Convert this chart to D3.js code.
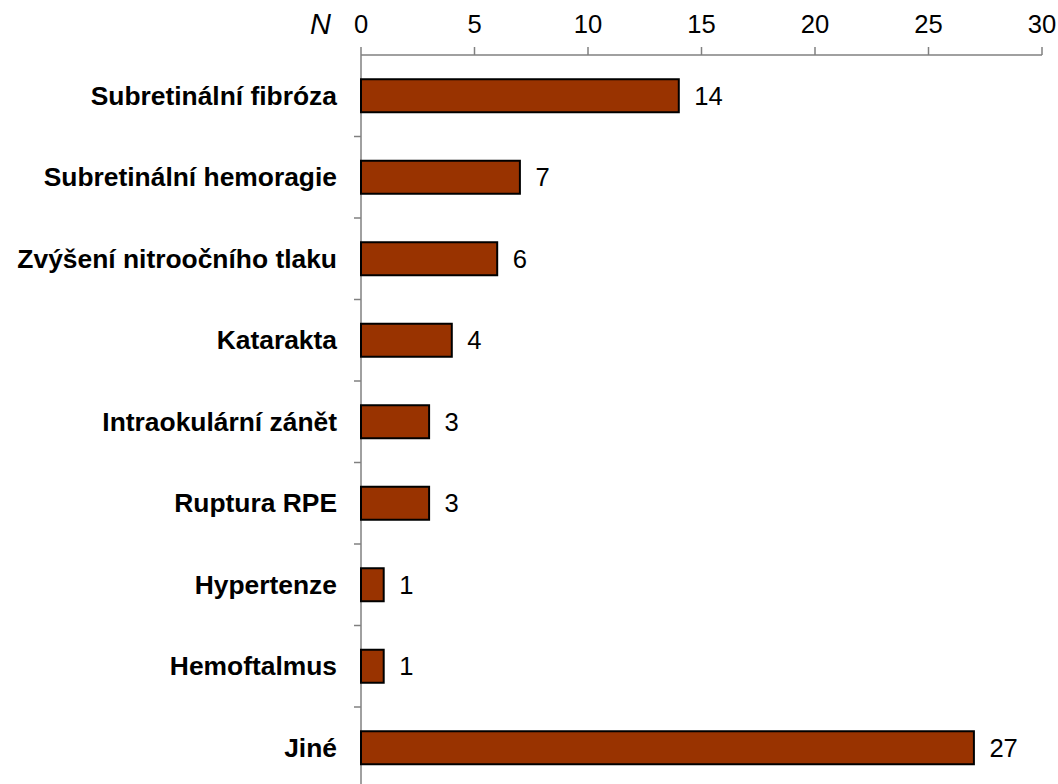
<!DOCTYPE html>
<html>
<head>
<meta charset="utf-8">
<script src="https://cdn.jsdelivr.net/npm/d3@7"></script>
<style>
  html, body { margin: 0; padding: 0; background: #fff; }
  svg { display: block; font-family: "Liberation Sans", Arial, sans-serif; }
</style>
</head>
<body>
<svg id="chart" width="1058" height="784"></svg>
<script>
// Complications and their counts
const categories = [
  "Subretinální fibróza",
  "Subretinální hemoragie",
  "Zvýšení nitroočního tlaku",
  "Katarakta",
  "Intraokulární zánět",
  "Ruptura RPE",
  "Hypertenze",
  "Hemoftalmus",
  "Jiné"
];
const counts = [14, 7, 6, 4, 3, 3, 1, 1, 27];
const xTicks = [0, 5, 10, 15, 20, 25, 30];

const svg = d3.select("#chart");
const margin = { top: 55, left: 361 };
const plotBottom = 788.5;

const x = d3.scaleLinear().domain([0, 30]).range([margin.left, 1042]);
const y = d3.scaleBand().domain(categories).range([margin.top, plotBottom]).paddingInner(0.595).paddingOuter(0.2975);
const band = d3.scaleBand().domain(categories).range([margin.top, plotBottom]);

const axisColor = "#808080";

// top value axis
const gx = svg.append("g").attr("transform", `translate(0,${margin.top})`);
gx.append("line")
  .attr("x1", x(0)).attr("x2", x(30))
  .attr("y1", 0).attr("y2", 0)
  .attr("stroke", axisColor).attr("stroke-width", 1.5);
gx.selectAll(".tick").data(xTicks).join("line")
  .attr("x1", d => x(d)).attr("x2", d => x(d))
  .attr("y1", 0).attr("y2", -8)
  .attr("stroke", axisColor).attr("stroke-width", 1.5);
gx.selectAll(".tl").data(xTicks).join("text")
  .attr("x", d => x(d)).attr("y", -22.5)
  .attr("text-anchor", "middle")
  .attr("font-size", 25.6)
  .attr("fill", "#000")
  .text(d => d);
svg.append("text")
  .attr("x", 331).attr("y", 34)
  .attr("text-anchor", "end")
  .attr("font-size", 29)
  .attr("font-style", "italic")
  .text("N");

// category axis
const gy = svg.append("g");
gy.append("line")
  .attr("x1", x(0)).attr("x2", x(0))
  .attr("y1", margin.top).attr("y2", plotBottom)
  .attr("stroke", axisColor).attr("stroke-width", 1.5);
gy.selectAll(".yt").data(categories).join("line")
  .attr("x1", x(0) - 7).attr("x2", x(0))
  .attr("y1", d => band(d) + band.bandwidth())
  .attr("y2", d => band(d) + band.bandwidth())
  .attr("stroke", axisColor).attr("stroke-width", 1.5);
gy.selectAll(".yl").data(categories).join("text")
  .attr("x", 337)
  .attr("y", d => y(d) + y.bandwidth() / 2)
  .attr("dy", "0.35em")
  .attr("text-anchor", "end")
  .attr("font-size", 26.4)
  .attr("font-weight", "bold")
  .text(d => d);

// bars
const rows = categories.map((c, i) => ({ c, v: counts[i] }));
svg.append("g").selectAll("rect").data(rows).join("rect")
  .attr("x", x(0))
  .attr("y", d => y(d.c))
  .attr("width", d => x(d.v) - x(0))
  .attr("height", y.bandwidth())
  .attr("fill", "#993300")
  .attr("stroke", "#000")
  .attr("stroke-width", 2);

// value labels
svg.append("g").selectAll("text").data(rows).join("text")
  .attr("x", d => x(d.v) + 15.5)
  .attr("y", d => y(d.c) + y.bandwidth() / 2)
  .attr("dy", "0.36em")
  .attr("font-size", 25.6)
  .text(d => d.v);
</script>
</body>
</html>
